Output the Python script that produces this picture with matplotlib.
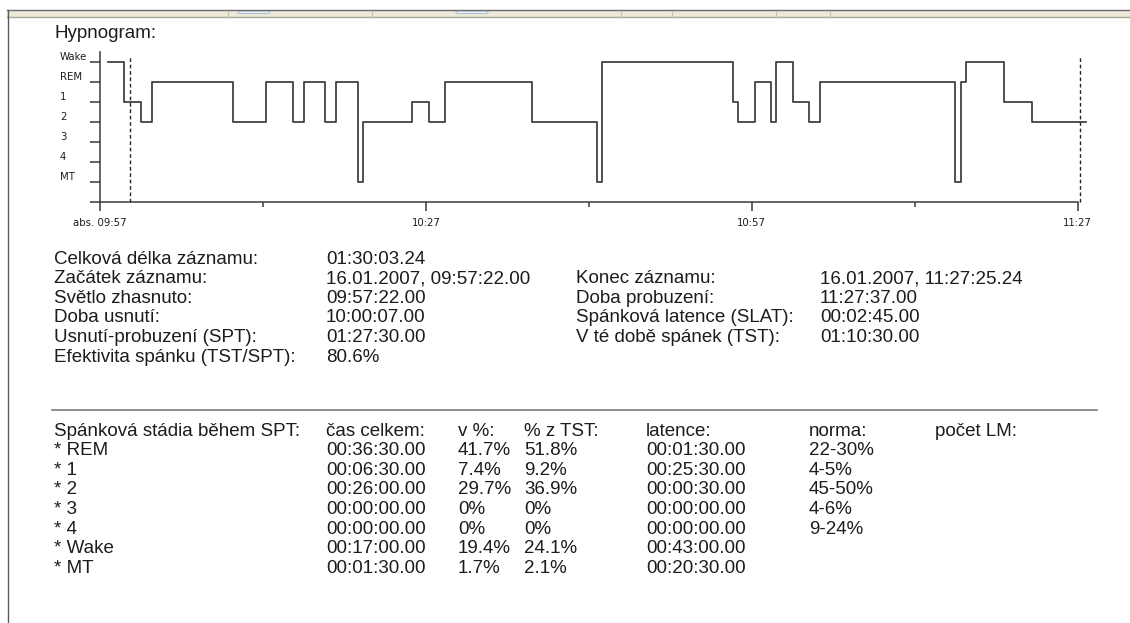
import numpy as np
import matplotlib
matplotlib.use("Agg")
from matplotlib import pyplot as plt
from matplotlib.lines import Line2D
from matplotlib.patches import Rectangle, FancyBboxPatch

# hypnogram: epoch boundaries in minutes from record start (09:57:22)
stage_start = [0.75, 2.25, 3.75, 4.75, 12.25, 15.25, 17.75, 18.75, 20.75, 21.75,
               23.75, 24.25, 28.75, 30.25, 31.75, 39.75, 45.75, 46.25, 58.25, 58.75,
               60.25, 61.75, 62.25, 63.75, 65.25, 66.25, 78.75, 79.25, 79.75, 83.25,
               85.75]
stage_end = 90.75
stages = ["Wake", "1", "2", "REM", "2", "REM", "2", "REM", "2", "REM",
          "MT", "2", "1", "2", "REM", "2", "MT", "Wake", "1", "2",
          "REM", "2", "Wake", "1", "2", "REM", "MT", "REM", "Wake", "1",
          "2"]
levels = ["MT", "4", "3", "2", "1", "REM", "Wake"]
sleep_onset = 2.75      # 10:00:07
wake_time = 90.25       # 11:27:37
major_ticks = [0, 30, 60, 90]
major_labels = ["abs. 09:57", "10:27", "10:57", "11:27"]
minor_ticks = [15, 45, 75]

# summary text
info_labels_left = ["Celková délka záznamu:", "Začátek záznamu:", "Světlo zhasnuto:",
                    "Doba usnutí:", "Usnutí-probuzení (SPT):", "Efektivita spánku (TST/SPT):"]
info_values_left = ["01:30:03.24", "16.01.2007, 09:57:22.00", "09:57:22.00",
                    "10:00:07.00", "01:27:30.00", "80.6%"]
info_labels_right = ["Konec záznamu:", "Doba probuzení:", "Spánková latence (SLAT):",
                     "V té době spánek (TST):"]
info_values_right = ["16.01.2007, 11:27:25.24", "11:27:37.00", "00:02:45.00", "01:10:30.00"]

table_header = ["Spánková stádia během SPT:", "čas celkem:", "v %:", "% z TST:",
                "latence:", "norma:", "počet LM:"]
table_stage = ["* REM", "* 1", "* 2", "* 3", "* 4", "* Wake", "* MT"]
table_time = ["00:36:30.00", "00:06:30.00", "00:26:00.00", "00:00:00.00",
              "00:00:00.00", "00:17:00.00", "00:01:30.00"]
table_pct = ["41.7%", "7.4%", "29.7%", "0%", "0%", "19.4%", "1.7%"]
table_pct_tst = ["51.8%", "9.2%", "36.9%", "0%", "0%", "24.1%", "2.1%"]
table_latency = ["00:01:30.00", "00:25:30.00", "00:00:30.00", "00:00:00.00",
                 "00:00:00.00", "00:43:00.00", "00:20:30.00"]
table_norm = ["22-30%", "4-5%", "45-50%", "4-6%", "9-24%", "", ""]

W, H = 1130, 623
TXT = "#1c1c1c"
LINE = "#3a3a3a"
FONT = ["Liberation Sans", "DejaVu Sans"]
FS = 13.5


def fx(px):
    return px / W


def fy(py):
    return 1 - py / H


fig = plt.figure(figsize=(W / 100, H / 100), dpi=100)
fig.patch.set_facecolor("white")

# window chrome (top bar + left border of the screenshot)
fig.patches.append(Rectangle((fx(7), fy(17)), 1 - fx(7), (17 - 10) / H,
                             transform=fig.transFigure, facecolor="#ece9d8",
                             edgecolor="none", zorder=0))
fig.lines.append(Line2D([fx(7), 1], [fy(10), fy(10)], transform=fig.transFigure,
                        color="#6b6b6b", lw=1.0))
fig.lines.append(Line2D([fx(7), 1], [fy(17), fy(17)], transform=fig.transFigure,
                        color="#a8a594", lw=1.0))
fig.lines.append(Line2D([fx(7.5), fx(7.5)], [fy(10), 0], transform=fig.transFigure,
                        color="#5a5a5a", lw=1.0))
for sx in [228, 372, 621, 672, 776, 830]:
    fig.lines.append(Line2D([fx(sx), fx(sx)], [fy(11), fy(17)], transform=fig.transFigure,
                            color="#c4c1ae", lw=0.8))
for tx in [238, 456]:
    fig.patches.append(FancyBboxPatch((fx(tx), fy(13.5)), 32 / W, 2.5 / H,
                                      boxstyle="round,pad=0,rounding_size=0.002",
                                      transform=fig.transFigure, facecolor="#f4f7fb",
                                      edgecolor="#a9bfd6", lw=0.8))

# hypnogram axes
ax = fig.add_axes([fx(100), fy(202), (1077.7 - 100) / W, (202 - 52) / H])
y_vals = [levels.index(s) for s in stages]
x_edges = stage_start + [stage_end]
ax.step(x_edges, y_vals + [y_vals[-1]], where="post", color=LINE, lw=1.25,
        clip_on=False, zorder=3)
for t in [sleep_onset, wake_time]:
    ax.plot([t, t], [-1, 6.25], color="#222222", lw=1.0, ls=(0, (2.6, 2.0)),
            clip_on=False, zorder=2)

ax.set_xlim(0, 90)
ax.set_ylim(-1, 6.5)
for side in ["top", "right"]:
    ax.spines[side].set_visible(False)
for side in ["left", "bottom"]:
    ax.spines[side].set_color(LINE)
    ax.spines[side].set_linewidth(1.1)

ax.set_yticks(range(-1, len(levels)))
ax.set_yticklabels([""] + levels, ha="left", va="bottom",
                   fontsize=7.3, family="DejaVu Sans", color=TXT)
ax.tick_params(axis="y", length=7.2, width=1.1, color=LINE, pad=21.6)

ax.set_xticks(major_ticks)
ax.set_xticklabels(major_labels, fontsize=7.3, family="DejaVu Sans", color=TXT)
ax.set_xticks(minor_ticks, minor=True)
ax.tick_params(axis="x", which="major", length=6.5, width=1.1, color=LINE, pad=5)
ax.tick_params(axis="x", which="minor", length=3.6, width=1.1, color=LINE)

fig.text(fx(54), fy(33), "Hypnogram:", fontsize=FS, family=FONT, color=TXT, va="center")

# summary block
row0, dy = 259, 19.6
for i, (lab, val) in enumerate(zip(info_labels_left, info_values_left)):
    fig.text(fx(54), fy(row0 + i * dy), lab, fontsize=FS, family=FONT, color=TXT, va="center")
    fig.text(fx(326), fy(row0 + i * dy), val, fontsize=FS, family=FONT, color=TXT, va="center")
for i, (lab, val) in enumerate(zip(info_labels_right, info_values_right)):
    fig.text(fx(576), fy(row0 + (i + 1) * dy), lab, fontsize=FS, family=FONT, color=TXT, va="center")
    fig.text(fx(820), fy(row0 + (i + 1) * dy), val, fontsize=FS, family=FONT, color=TXT, va="center")

fig.lines.append(Line2D([fx(52), fx(1097)], [fy(410), fy(410)], transform=fig.transFigure,
                        color="#6e6e6e", lw=1.1))

# stage table
col_x = [54, 326, 458, 524, 646, 809, 935]
trow0 = 431
for c, text in enumerate(table_header):
    fig.text(fx(col_x[c]), fy(trow0), text, fontsize=FS, family=FONT, color=TXT, va="center")
columns = [table_stage, table_time, table_pct, table_pct_tst, table_latency, table_norm]
for c, col in enumerate(columns):
    for r, text in enumerate(col):
        fig.text(fx(col_x[c]), fy(trow0 + (r + 1) * dy), text, fontsize=FS,
                 family=FONT, color=TXT, va="center")

fig.savefig("out.png", dpi=100)
